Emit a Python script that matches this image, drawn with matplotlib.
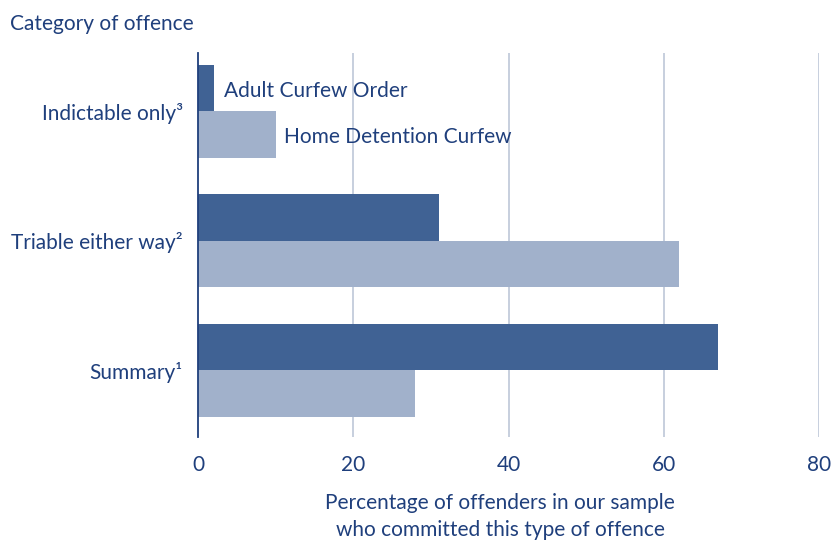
import matplotlib
matplotlib.use("Agg")
import matplotlib.pyplot as plt
import numpy as np

plt.rcParams['font.family'] = ['Lato', 'DejaVu Sans']

categories = ["Indictable only³", "Triable either way²", "Summary¹"]
series_names = ["Adult Curfew Order", "Home Detention Curfew"]
aco_values = [2, 31, 67]
hdc_values = [10, 62, 28]
x_ticks = [0, 20, 40, 60, 80]

text_col = "#1f3f7c"
dark_bar = "#406294"
light_bar = "#a1b1cb"
grid_col = "#c3cbdb"

fig = plt.figure(figsize=(8.36, 5.41), dpi=100)
ax = fig.add_axes([198 / 836, 1 - 437 / 541, (819 - 198) / 836, (437 - 53) / 541])

y = np.arange(len(categories))
h = 0.359
ax.barh(y - h / 2, aco_values, height=h, color=dark_bar, zorder=3)
ax.barh(y + h / 2, hdc_values, height=h, color=light_bar, zorder=3)

ax.set_xlim(0, 80)
ax.set_ylim(2.517, -0.448)
ax.set_xticks(x_ticks)
ax.set_xticklabels([str(t) for t in x_ticks])
ax.set_yticks(y)
ax.set_yticklabels(categories)

for t in x_ticks[1:]:
    ax.axvline(t, color=grid_col, lw=1.3, zorder=1)

for s in ["top", "right", "bottom"]:
    ax.spines[s].set_visible(False)
ax.spines["left"].set_color(text_col)
ax.spines["left"].set_linewidth(1.3)
ax.spines["left"].set_zorder(4)

ax.tick_params(axis="both", length=0, labelsize=15, colors=text_col)
ax.tick_params(axis="x", pad=13)
ax.tick_params(axis="y", pad=11)

ax.set_xlabel("Percentage of offenders in our sample\nwho committed this type of offence",
              fontsize=15, color=text_col, labelpad=13, linespacing=1.4)
ax.xaxis.label.set_position(((500 - 198) / (819 - 198), 0))

# series labels placed beside the first group's bars
ax.annotate(series_names[0], xy=(aco_values[0], y[0] - h / 2), xytext=(7.5, -2),
            textcoords="offset points", va="center", ha="left", fontsize=15, color=text_col)
ax.annotate(series_names[1], xy=(hdc_values[0], y[0] + h / 2), xytext=(6, -2),
            textcoords="offset points", va="center", ha="left", fontsize=15, color=text_col)

fig.text(10 / 836, 1 - 24 / 541, "Category of offence", ha="left", va="center",
         fontsize=15, color=text_col)

fig.savefig("out.png", dpi=100)
